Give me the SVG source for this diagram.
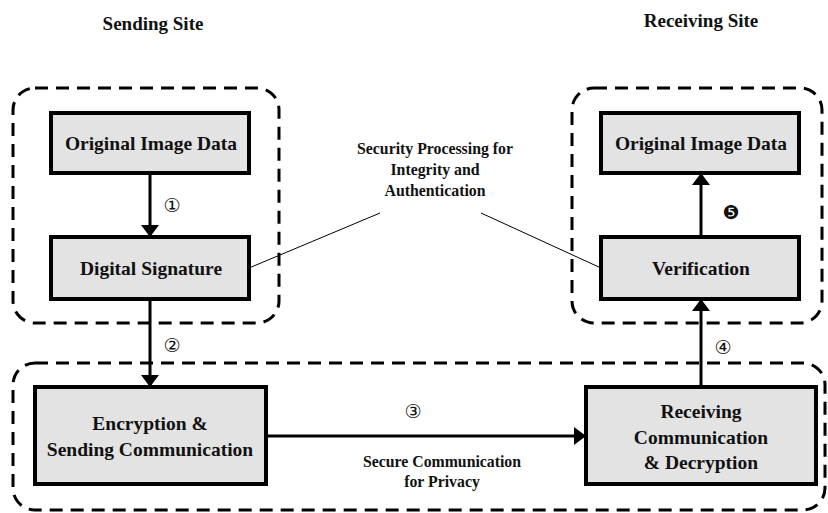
<svg xmlns="http://www.w3.org/2000/svg" width="828" height="513" viewBox="0 0 828 513">
<defs>
<marker id="ah" viewBox="0 0 12 18" refX="12" refY="9" markerWidth="12" markerHeight="18" markerUnits="userSpaceOnUse" orient="auto"><path d="M0,0 L12,9 L0,18 Z" fill="#000"/></marker>
<style>
.box{fill:#e3e3e3;stroke:#000;stroke-width:4}
.grp{fill:none;stroke:#000;stroke-width:3;stroke-dasharray:13 8}
.t{font-family:"Liberation Serif","Times New Roman",serif;font-weight:bold;font-size:19.5px;text-anchor:middle;fill:#111}
.s{font-family:"Liberation Serif","Times New Roman",serif;font-weight:bold;font-size:15.8px;text-anchor:middle;fill:#111}
.h{font-family:"Liberation Serif","Times New Roman",serif;font-weight:bold;font-size:19px;text-anchor:middle;fill:#111}
.n{font-family:"DejaVu Sans",sans-serif;font-size:19px;text-anchor:middle;fill:#111}
.c{stroke:#000;stroke-width:3;fill:none}
.thin{stroke:#000;stroke-width:1;fill:none}
</style>
</defs>
<rect width="828" height="513" fill="#fff"/>
<text class="h" x="153" y="30">Sending Site</text>
<text class="h" x="701" y="27">Receiving Site</text>
<g id="group-sending"><rect class="grp" x="13" y="88" width="266" height="235" rx="22"/></g>
<g id="group-receiving"><rect class="grp" x="572" y="88" width="250" height="235" rx="22"/></g>
<g id="group-communication"><rect class="grp" x="13" y="363" width="812" height="147" rx="22"/></g>
<g id="connectors">
<line class="c" x1="150" y1="175" x2="150" y2="237" marker-end="url(#ah)"/>
<line class="c" x1="150" y1="301" x2="150" y2="387" marker-end="url(#ah)"/>
<line class="c" x1="268" y1="436" x2="586" y2="436" marker-end="url(#ah)"/>
<line class="c" x1="701" y1="385" x2="701" y2="299" marker-end="url(#ah)"/>
<line class="c" x1="701" y1="235" x2="701" y2="173" marker-end="url(#ah)"/>
<line class="thin" x1="249" y1="268" x2="380" y2="213"/>
<line class="thin" x1="481" y1="213" x2="601" y2="268"/>
<text class="n" x="172" y="212">①</text>
<text class="n" x="172" y="352">②</text>
<text class="n" x="413" y="418">③</text>
<text class="n" x="723" y="354">④</text>
<text class="n" x="731" y="219">❺</text>
<text class="s" x="442" y="467">Secure Communication</text>
<text class="s" x="442" y="487">for Privacy</text>
</g>
<g id="security-label">
<text class="s" x="435" y="154">Security Processing for</text>
<text class="s" x="435" y="175">Integrity and</text>
<text class="s" x="435" y="196">Authentication</text>
</g>
<g id="orig-send"><rect class="box" x="51" y="113" width="198" height="60"/><text class="t" x="151" y="150">Original Image Data</text></g>
<g id="digital-signature"><rect class="box" x="51" y="237" width="198" height="62"/><text class="t" x="151" y="275">Digital Signature</text></g>
<g id="orig-recv"><rect class="box" x="601" y="113" width="198" height="60"/><text class="t" x="701" y="150">Original Image Data</text></g>
<g id="verification"><rect class="box" x="601" y="237" width="198" height="62"/><text class="t" x="701" y="275">Verification</text></g>
<g id="encryption"><rect class="box" x="35" y="387" width="231" height="97"/><text class="t" x="150" y="430">Encryption &amp;</text><text class="t" x="150" y="456">Sending Communication</text></g>
<g id="receiving"><rect class="box" x="586" y="387" width="230" height="97"/><text class="t" x="701" y="418">Receiving</text><text class="t" x="701" y="444">Communication</text><text class="t" x="701" y="469">&amp; Decryption</text></g>
</svg>
